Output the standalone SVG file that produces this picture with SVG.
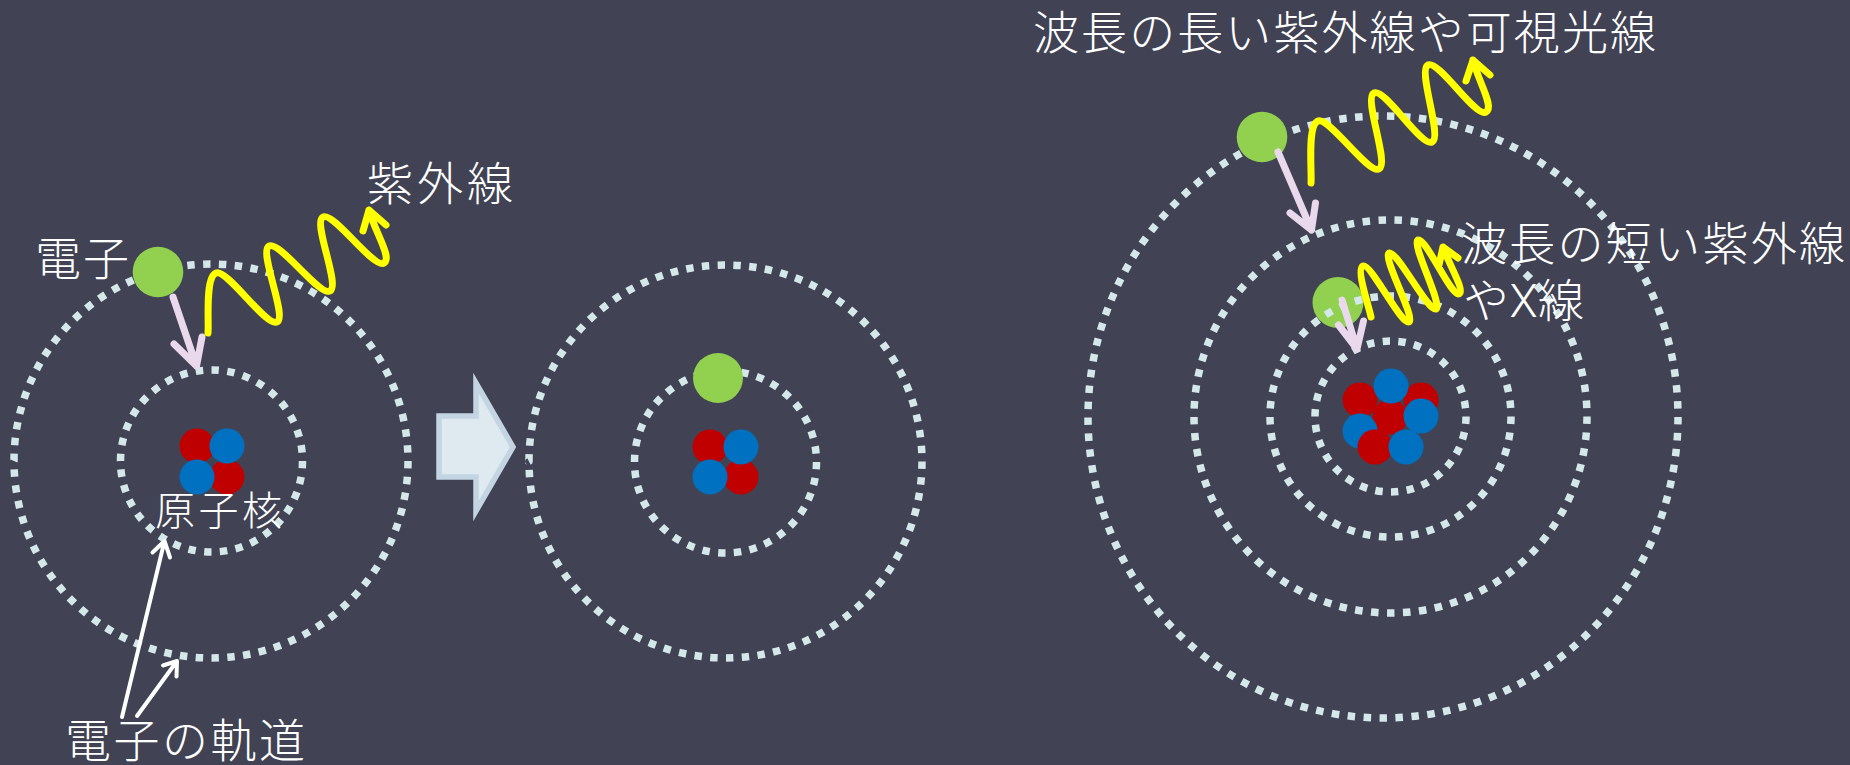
<svg xmlns="http://www.w3.org/2000/svg" width="1850" height="765" viewBox="0 0 1850 765">
  <style>
    .orbit { fill: none; stroke: #d4e8ea; stroke-width: 7.5; stroke-dasharray: 7.5 8.5; }
    .p { fill: #c00000; }
    .n { fill: #0070c0; }
    .e { fill: #92d050; }
    .drop { fill: none; stroke: #ead8ec; stroke-width: 7; stroke-linecap: round; stroke-linejoin: round; }
    .wave { fill: none; stroke: #ffff00; stroke-width: 7; stroke-linecap: round; stroke-linejoin: round; }
    .ptr { fill: none; stroke: #ffffff; stroke-width: 4; stroke-linecap: round; stroke-linejoin: round; }
    .step { fill: #dee9f0; stroke: #c3d5e3; stroke-width: 5.5; stroke-linejoin: miter; }
    .lbl { fill: #ffffff; font-family: 'Roboto', 'Noto Sans CJK JP', sans-serif; font-size: 46px; font-weight: 300; }
  </style>

  <rect width="1850" height="765" fill="#414354"/>

  <!-- atom before the transition: electron on the outer shell -->
  <g id="atom-left">
    <circle class="orbit" cx="211" cy="461" r="197" pathLength="1248"/>
    <circle class="orbit" cx="211.5" cy="461" r="91" pathLength="576"/>
    <g id="nucleus-left">
      <circle class="p" cx="197" cy="446" r="17.5"/>
      <circle class="p" cx="227" cy="477" r="17.5"/>
      <circle class="n" cx="227" cy="446" r="17.5"/>
      <circle class="n" cx="197" cy="477" r="17.5"/>
    </g>
    <circle id="electron-left" class="e" cx="158" cy="272" r="25.3"/>
  </g>

  <!-- atom after the transition: electron on the inner shell -->
  <g id="atom-middle">
    <circle class="orbit" cx="725.5" cy="461.5" r="196.5" pathLength="1248"/>
    <circle class="orbit" cx="725.5" cy="462" r="91" pathLength="576"/>
    <g id="nucleus-middle">
      <circle class="p" cx="710" cy="447" r="17.5"/>
      <circle class="p" cx="741" cy="477" r="17.5"/>
      <circle class="n" cx="741" cy="447" r="17.5"/>
      <circle class="n" cx="710" cy="477" r="17.5"/>
    </g>
    <circle id="electron-middle" class="e" cx="718" cy="378" r="25"/>
  </g>

  <!-- heavier atom with four shells -->
  <g id="atom-right">
    <circle class="orbit" cx="1390.5" cy="416.5" r="75.5" pathLength="480"/>
    <circle class="orbit" cx="1390.5" cy="416.5" r="196.5" pathLength="1232"/>
    <ellipse class="orbit" cx="1383" cy="417" rx="295" ry="301" pathLength="1872"/>
    <g id="nucleus-right">
      <circle class="p" cx="1360" cy="400" r="17.5"/>
      <circle class="p" cx="1421" cy="400" r="17.5"/>
      <circle class="p" cx="1390" cy="417" r="17.5"/>
      <circle class="n" cx="1391" cy="386" r="17.5"/>
      <circle class="n" cx="1421" cy="416" r="17.5"/>
      <circle class="n" cx="1360" cy="431" r="17.5"/>
      <circle class="p" cx="1375" cy="447" r="17.5"/>
      <circle class="n" cx="1406" cy="447" r="17.5"/>
    </g>
    <circle id="electron-right-outer" class="e" cx="1262" cy="137" r="25.3"/>
    <circle id="electron-right-inner" class="e" cx="1338" cy="302.5" r="25.5"/>
    <circle class="orbit" cx="1390.5" cy="416.5" r="120.5" pathLength="752"/>
  </g>

  <g id="connectors">
    <!-- transition arrow between the two atoms -->
    <polygon id="step-arrow" class="step" points="439,416 476,416 476,383 513,447 476,511 476,477 439,477"/>

    <!-- electron drops to a lower shell -->
    <path class="drop" d="M173,297 L196.5,366 M174,344 L196.5,366 L202,337"/>
    <path class="drop" d="M1278,152 L1311.5,230 M1290,213 L1311.5,230 L1315.5,203"/>
    <path class="drop" d="M1342,300 L1357,349 M1338.5,325 L1357,349 L1363.5,321"/>

    <!-- emitted radiation: sheared sine waves ending in an arrowhead -->
    <path class="wave" d="M208,333 C209.1,323.1 204.8,277.3 216,273 C227.2,268.7 266.4,327.6 277,322 C287.6,316.4 258.5,251.8 269,246 C279.5,240.2 319.5,296.8 330,291 C340.5,285.2 312.5,222.7 323,217 C333.5,211.3 373.9,269.5 384,263 C392.4,257.5 375.8,234.1 369,210 M363,231 L369,210 L386,225"/>
    <path class="wave" d="M1311,183 C1312.1,173 1306.8,125.4 1318,121 C1329.2,116.6 1368.3,174.4 1379,169 C1389.7,163.6 1363.2,98.2 1374,93 C1384.8,87.8 1421.1,147.1 1432,142 C1442.9,136.9 1417.2,70.2 1428,65 C1438.8,59.8 1475.7,118.2 1486,112 C1494.6,106.9 1479,83.3 1473,60 M1466,81 L1473,60 L1490,75"/>
    <path class="wave" d="M1371,317 C1369.7,309.1 1355.7,269.2 1363,266 C1370.3,262.8 1401.9,325.6 1409,322 C1416.1,318.4 1381.9,256.7 1389,253 C1396.1,249.3 1428.8,312.6 1436,309 C1443.2,305.4 1410.8,243.4 1418,240 C1425.2,236.6 1451.9,297.6 1459,294 C1465.2,290.8 1449.3,265 1443,247 M1439,265 L1443,247 L1458,258"/>

    <!-- pointers to the electron orbits -->
    <path class="ptr" d="M122,717 L164.5,541 M152.5,552.5 L164.5,541 L170,557.5"/>
    <path class="ptr" d="M137,716 L177,661 M163,665.5 L177,661 L176.5,676.5"/>
  </g>

  <g id="labels">
    <text class="lbl" x="367" y="200" textLength="146" lengthAdjust="spacing">紫外線</text>
    <text class="lbl" x="35" y="275" textLength="94" lengthAdjust="spacing">電子</text>
    <text class="lbl" x="155" y="525" style="font-size:40px" textLength="127" lengthAdjust="spacing">原子核</text>
    <text class="lbl" x="65" y="757" textLength="240" lengthAdjust="spacing">電子の軌道</text>
    <text class="lbl" x="1033" y="49" textLength="623" lengthAdjust="spacing">波長の長い紫外線や可視光線</text>
    <text class="lbl" x="1461" y="260" textLength="384" lengthAdjust="spacing">波長の短い紫外線</text>
    <text class="lbl" x="1463" y="317" textLength="121" lengthAdjust="spacing">やX線</text>
  </g>
</svg>
